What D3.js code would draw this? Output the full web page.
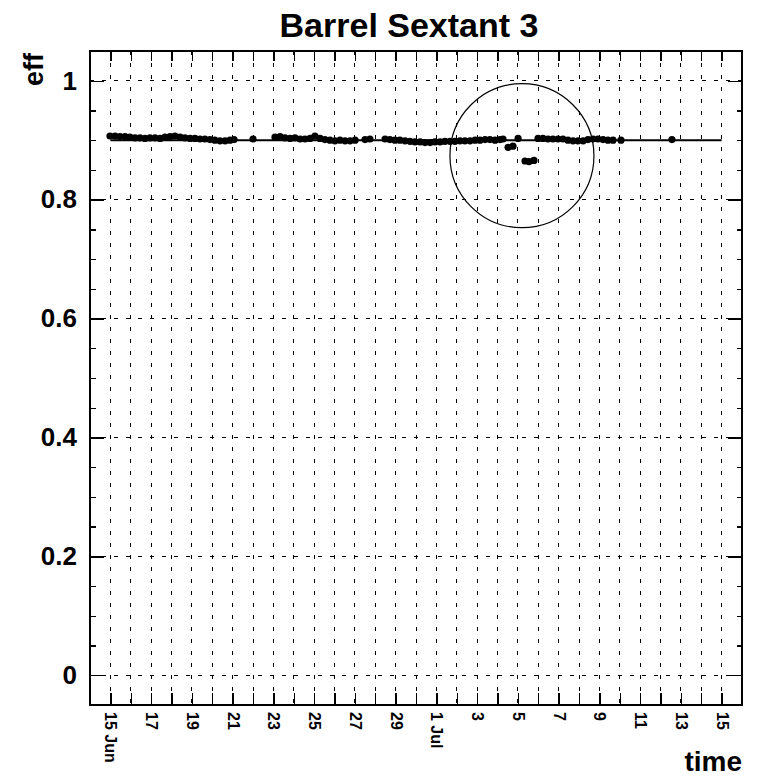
<!DOCTYPE html>
<html><head><meta charset="utf-8">
<script src="https://cdn.jsdelivr.net/npm/d3@7"></script>
<style>body{margin:0;background:#fff} svg{display:block}</style>
</head><body>
<script>
// time of each point, in days counted from 1 June (values above 30 fall in July)
const pointDays = [14.98,15.23,15.47,15.72,15.96,16.21,16.45,16.70,16.94,17.19,17.44,17.68,17.93,18.17,18.42,18.66,18.91,19.15,19.40,19.64,19.89,20.13,20.38,20.63,20.87,21.07,
  22.00,
  23.08,23.33,23.57,23.82,24.06,24.31,24.55,24.80,25.04,25.29,25.53,25.78,26.02,26.27,26.52,26.76,27.01,27.50,27.74,
  28.48,28.72,28.97,29.21,29.46,29.71,29.95,30.20,30.44,30.69,30.93,31.18,31.42,31.67,31.91,32.16,32.40,32.65,32.90,33.14,33.39,33.63,33.88,34.12,34.27,
  34.52,34.76,35.01,35.35,35.55,35.79,
  35.99,36.23,36.48,36.72,36.97,37.21,37.46,37.71,37.95,38.20,38.44,38.69,38.93,39.18,39.42,39.67,40.06,
  42.56];
const pointEff = [0.907,0.907,0.906,0.906,0.905,0.904,0.904,0.903,0.904,0.904,0.903,0.905,0.906,0.907,0.905,0.904,0.903,0.903,0.902,0.902,0.901,0.900,0.899,0.899,0.900,0.901,
  0.902,
  0.905,0.906,0.904,0.903,0.904,0.902,0.902,0.903,0.907,0.903,0.901,0.900,0.899,0.900,0.899,0.899,0.900,0.901,0.902,
  0.902,0.901,0.900,0.900,0.899,0.898,0.897,0.897,0.896,0.896,0.897,0.897,0.898,0.898,0.898,0.899,0.899,0.899,0.900,0.900,0.901,0.901,0.900,0.901,0.902,
  0.888,0.890,0.903,0.865,0.864,0.866,
  0.903,0.903,0.902,0.902,0.902,0.902,0.900,0.899,0.899,0.899,0.901,0.902,0.902,0.901,0.900,0.900,0.900,
  0.901];
// reference line (start / end day from 1 June, efficiency)
const refDays = [15, 45];
const refEff = [0.9, 0.9];
// highlighted region (centre day, centre efficiency)
const circleDay = 35.20, circleEff = 0.874;
// axes
const xDomainDays = [14, 46];
const yDomain = [-0.05, 1.05];
const yTickValues = [0, 0.2, 0.4, 0.6, 0.8, 1];
const yTickLabels = ["0", "0.2", "0.4", "0.6", "0.8", "1"];
const xLabelDays = [15,17,19,21,23,25,27,29,31,33,35,37,39,41,43,45];
const xTickLabels = ["15 Jun","17","19","21","23","25","27","29","1 Jul","3","5","7","9","11","13","15"];

const W = 762, H = 779;
const L = 90, R = 742, T = 51, B = 705;
const toDate = d => new Date(Date.UTC(2008, 5, 1) + (d - 1) * 864e5);

const svg = d3.select("body").append("svg").attr("width", W).attr("height", H)
  .style("font-family", "'Liberation Sans', Arial, Helvetica, sans-serif");

const x = d3.scaleUtc().domain(xDomainDays.map(toDate)).range([L, R]);
const y = d3.scaleLinear().domain(yDomain).range([B, T]);

const dayTicks = d3.utcDay.range(toDate(15), toDate(45.5));
const yMinor = d3.range(-0.05, 1.0501, 0.05).filter(v => !yTickValues.some(t => Math.abs(t - v) < 1e-6));

// grid
const grid = svg.append("g").attr("stroke", "#000").attr("stroke-width", 1).attr("stroke-dasharray", "4 8").attr("shape-rendering", "crispEdges");
grid.selectAll("line.v").data(dayTicks).join("line").attr("class", "v")
  .attr("x1", d => x(d)).attr("x2", d => x(d)).attr("y1", T).attr("y2", B);
grid.selectAll("line.h").data(yTickValues).join("line").attr("class", "h")
  .attr("x1", L).attr("x2", R).attr("y1", d => y(d)).attr("y2", d => y(d));

function clean(g) { g.select(".domain").remove(); g.selectAll("line").attr("stroke-width", 1.3).attr("shape-rendering", "crispEdges"); }

// x ticks bottom / top
svg.append("g").attr("transform", `translate(0,${B})`)
  .call(d3.axisBottom(x).tickValues(dayTicks).tickSize(-12).tickFormat("")).call(clean);
svg.append("g").attr("transform", `translate(0,${T})`)
  .call(d3.axisTop(x).tickValues(dayTicks).tickSize(-10).tickFormat("")).call(clean);

// x labels
const xl = svg.append("g").attr("transform", `translate(0,${B})`)
  .call(d3.axisBottom(x).tickValues(xLabelDays.map(toDate)).tickSize(0).tickFormat((d, i) => xTickLabels[i]));
xl.select(".domain").remove();
xl.selectAll("text").attr("transform", "rotate(90)").attr("text-anchor", "start")
  .attr("x", 7).attr("y", 0).attr("dy", "0.35em")
  .style("font-size", "16px").style("font-weight", "bold")
  .style("font-family", "'Liberation Sans', Arial, sans-serif").attr("fill", "#000");

// y ticks left / right
const yl = svg.append("g").attr("transform", `translate(${L},0)`)
  .call(d3.axisLeft(y).tickValues(yTickValues).tickSize(-14).tickPadding(13).tickFormat((d, i) => yTickLabels[i]));
yl.call(clean);
yl.selectAll("text").style("font-size", "26px").style("font-weight", "bold").style("font-family", "'Liberation Sans', Arial, sans-serif").attr("fill", "#000");
svg.append("g").attr("transform", `translate(${L},0)`)
  .call(d3.axisLeft(y).tickValues(yMinor).tickSize(-6).tickFormat("")).call(clean);
svg.append("g").attr("transform", `translate(${R},0)`)
  .call(d3.axisRight(y).tickValues(yTickValues).tickSize(-14).tickFormat("")).call(clean);
svg.append("g").attr("transform", `translate(${R},0)`)
  .call(d3.axisRight(y).tickValues(yMinor).tickSize(-5).tickFormat("")).call(clean);

// frame
svg.append("rect").attr("x", L).attr("y", T).attr("width", R - L).attr("height", B - T)
  .attr("fill", "none").attr("stroke", "#000").attr("stroke-width", 2);

// reference line
svg.append("path")
  .attr("d", d3.line().x(d => x(toDate(d[0]))).y(d => y(d[1]))(d3.zip(refDays, refEff)))
  .attr("stroke", "#000").attr("stroke-width", 2).attr("fill", "none");

// points
svg.append("g").selectAll("circle").data(d3.zip(pointDays, pointEff)).join("circle")
  .attr("cx", d => x(toDate(d[0]))).attr("cy", d => y(d[1])).attr("r", 3.6).attr("fill", "#000");

// highlight circle
svg.append("circle").attr("cx", x(toDate(circleDay))).attr("cy", y(circleEff)).attr("r", 72)
  .attr("fill", "none").attr("stroke", "#000").attr("stroke-width", 1.2);

// titles
svg.append("text").attr("x", 409).attr("y", 37).attr("text-anchor", "middle")
  .style("font-size", "34px").style("font-weight", "bold").text("Barrel Sextant 3");
svg.append("text").attr("transform", "translate(43,53) rotate(-90)").attr("text-anchor", "end")
  .style("font-size", "27px").style("font-weight", "bold").text("eff");
svg.append("text").attr("x", 742).attr("y", 771).attr("text-anchor", "end")
  .style("font-size", "28px").style("font-weight", "bold").text("time");
</script>
</body></html>
